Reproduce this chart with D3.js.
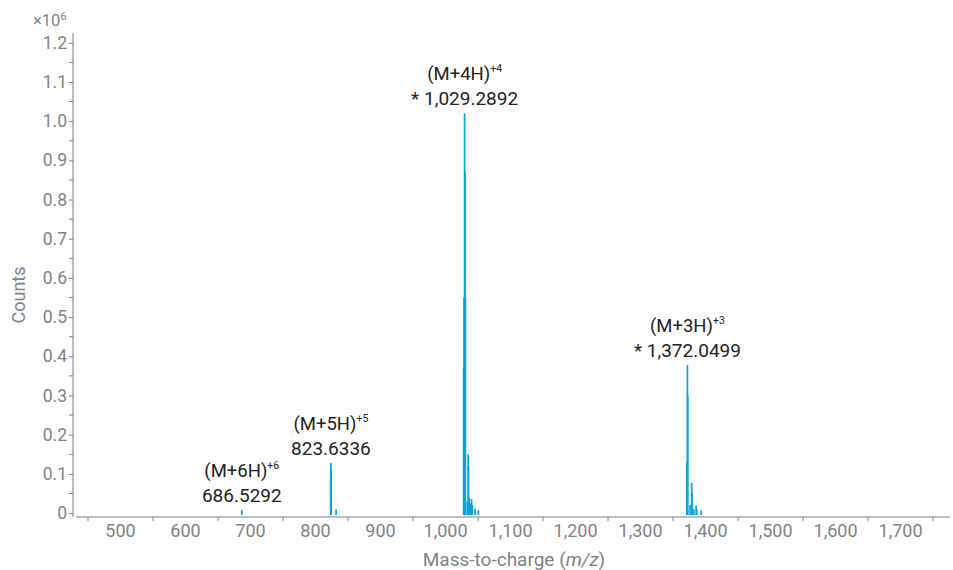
<!DOCTYPE html>
<html>
<head>
<meta charset="utf-8">
<script src="https://cdn.jsdelivr.net/npm/d3@7"></script>
<style>
  body { margin: 0; background: #fff; }
  text { font-family: Roboto, "Noto Sans", sans-serif; }
</style>
</head>
<body>
<div id="chart"></div>
<script>
// spectrum sticks (m/z, counts x10^6)
var peakMz = [686.5,
  823.3, 823.63, 824.0, 831.6,
  1027.8, 1028.4, 1029.29, 1029.9, 1030.5, 1033.4, 1034.8, 1035.3, 1036.5, 1038.3, 1040.1, 1041.0, 1045.2, 1050.5,
  1371.2, 1372.05, 1372.6, 1376.2, 1378.6, 1379.2, 1382.0, 1385.5, 1386.5, 1393.2];
var peakCounts = [0.008,
  0.10, 0.128, 0.11, 0.010,
  0.37, 0.55, 1.02, 0.87, 0.55, 0.03, 0.15, 0.12, 0.04, 0.025, 0.036, 0.02, 0.012, 0.008,
  0.13, 0.378, 0.30, 0.02, 0.077, 0.05, 0.01, 0.019, 0.01, 0.006];

// annotations
var annMz = [686.5292, 823.6336, 1029.2892, 1372.0499];
var annTop = [0.008, 0.128, 1.02, 0.378];
var annIon = ["(M+6H)", "(M+5H)", "(M+4H)", "(M+3H)"];
var annCharge = ["+6", "+5", "+4", "+3"];
var annLabel = ["686.5292", "823.6336", "* 1,029.2892", "* 1,372.0499"];

var xLabels = [500, 600, 700, 800, 900, 1000, 1100, 1200, 1300, 1400, 1500, 1600, 1700];
var xTicks = [450, 550, 650, 750, 850, 950, 1050, 1150, 1250, 1350, 1450, 1550, 1650, 1750];
var yLabels = [0, 0.1, 0.2, 0.3, 0.4, 0.5, 0.6, 0.7, 0.8, 0.9, 1.0, 1.1, 1.2];
var yMinor = [0.05, 0.15, 0.25, 0.35, 0.45, 0.55, 0.65, 0.75, 0.85, 0.95, 1.05, 1.15];

var width = 953, height = 570;
var axisColor = "#7a7d80", labelColor = "#7f8285", peakColor = "#0ea0dd";

var svg = d3.select("#chart").append("svg")
  .attr("width", width)
  .attr("height", height);

var x = d3.scaleLinear().domain([431.5, 1776]).range([76, 950]);
var y = d3.scaleLinear().domain([-0.01, 1.225]).range([517, 33]);

// peaks
svg.append("g").selectAll("line")
  .data(peakMz)
  .enter().append("line")
  .attr("x1", function(d) { return x(d); })
  .attr("x2", function(d) { return x(d); })
  .attr("y1", y(-0.005))
  .attr("y2", function(d, i) { return y(peakCounts[i]); })
  .attr("stroke", peakColor)
  .attr("stroke-width", 1.7);

// x axis: labels without ticks, ticks in between
var fmt = d3.format(",");
var xg = svg.append("g").attr("transform", "translate(0,517)");
xg.append("line").attr("x1", 76).attr("x2", 950).attr("stroke", axisColor);
xg.selectAll("line.tk").data(xTicks).enter().append("line")
  .attr("class", "tk")
  .attr("x1", function(d) { return x(d); }).attr("x2", function(d) { return x(d); })
  .attr("y1", 0).attr("y2", 4).attr("stroke", axisColor);
xg.selectAll("text").data(xLabels).enter().append("text")
  .attr("x", function(d) { return x(d); })
  .attr("y", 20)
  .attr("text-anchor", "middle")
  .attr("font-size", 18)
  .attr("fill", labelColor)
  .text(function(d) { return fmt(d); });

// y axis
var yAxis = d3.axisLeft(y).tickValues(yLabels).tickSize(4).tickPadding(2)
  .tickFormat(function(d) { return d === 0 ? "0" : d3.format(".1f")(d); });
var yg = svg.append("g").attr("transform", "translate(73,0)").call(yAxis);
yg.select(".domain").attr("d", "M0," + y.range()[1] + "V" + y.range()[0]).attr("stroke", axisColor);
yg.selectAll(".tick line").attr("stroke", axisColor);
yg.selectAll(".tick text").attr("font-size", 17.5).attr("fill", labelColor)
  .attr("font-family", "Roboto, sans-serif");
yg.selectAll("line.minor").data(yMinor).enter().append("line")
  .attr("class", "minor")
  .attr("x1", -4).attr("x2", 0)
  .attr("y1", function(d) { return y(d); }).attr("y2", function(d) { return y(d); })
  .attr("stroke", axisColor);

// multiplier
var mult = svg.append("text").attr("x", 33).attr("y", 26)
  .attr("font-size", 16.5).attr("fill", labelColor);
mult.append("tspan").text("×10");
mult.append("tspan").attr("font-size", 11).attr("dy", -6).text("6");

// axis titles
var xt = svg.append("text").attr("x", 514).attr("y", 566)
  .attr("text-anchor", "middle").attr("font-size", 19).attr("fill", labelColor);
xt.append("tspan").text("Mass-to-charge (");
xt.append("tspan").attr("font-style", "italic").text("m/z");
xt.append("tspan").text(")");

svg.append("text")
  .attr("transform", "translate(25,295) rotate(-90)")
  .attr("text-anchor", "middle").attr("font-size", 18).attr("fill", labelColor)
  .text("Counts");

// peak annotations
var ann = svg.append("g").selectAll("g")
  .data(annMz)
  .enter().append("g")
  .attr("transform", function(d, i) { return "translate(" + x(d) + "," + (y(annTop[i]) - 8) + ")"; });

ann.append("text")
  .attr("text-anchor", "middle")
  .attr("font-size", 19)
  .attr("fill", "#222")
  .text(function(d, i) { return annLabel[i]; });

var ion = ann.append("text")
  .attr("y", -25)
  .attr("text-anchor", "middle")
  .attr("font-size", 18.5)
  .attr("fill", "#222");
ion.append("tspan").text(function(d, i) { return annIon[i]; });
ion.append("tspan").attr("font-size", 10.5).attr("dy", -8).text(function(d, i) { return annCharge[i]; });
</script>
</body>
</html>
